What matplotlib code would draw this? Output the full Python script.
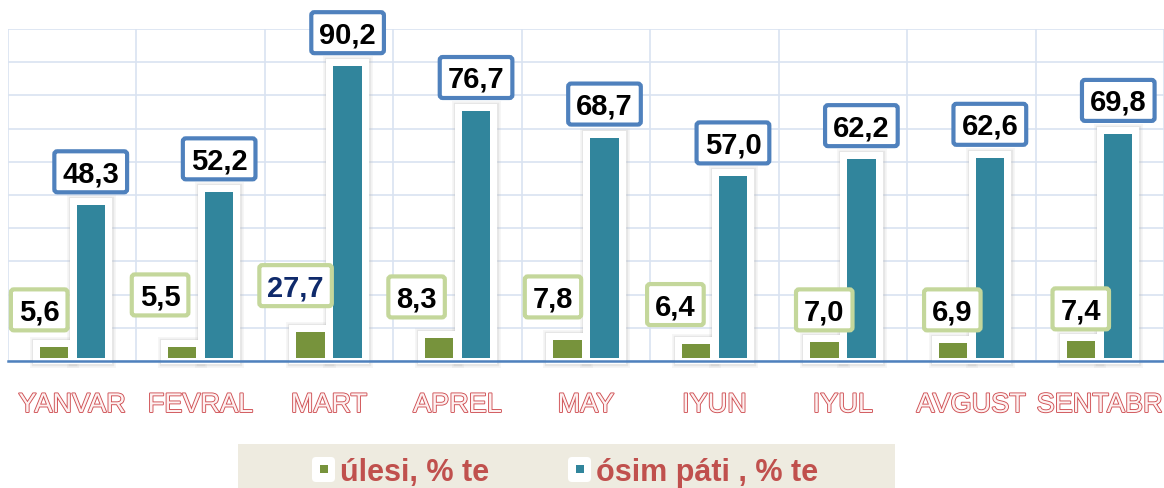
import numpy as np
import matplotlib
matplotlib.use('Agg')
import matplotlib.pyplot as plt
import matplotlib.patheffects as pe
from matplotlib import font_manager
from matplotlib.patches import FancyBboxPatch, Rectangle
from matplotlib.transforms import IdentityTransform

# data
months = ['YANVAR', 'FEVRAL', 'MART', 'APREL', 'MAY', 'IYUN', 'IYUL', 'AVGUST', 'SENTABR']
ulesi = [5.6, 5.5, 27.7, 8.3, 7.8, 6.4, 7.0, 6.9, 7.4]          # label values
ulesi_bar = [5.6, 5.5, 10.1, 8.3, 7.8, 6.4, 7.0, 6.9, 7.4]      # bar heights as drawn
osim = [48.3, 52.2, 90.2, 76.7, 68.7, 57.0, 62.2, 62.6, 69.8]
legend_labels = ['úlesi, % te', 'ósim páti , % te']

# where the green value boxes sit (x offset in categories, y in data units)
ulesi_lbl_dx = [-0.257, -0.316, -0.261, -0.319, -0.257, -0.304, -0.145, -0.148, -0.148]
ulesi_lbl_y = [16.8, 21.3, 24.1, 20.7, 20.7, 18.4, 16.8, 16.8, 17.1]

GREEN = '#77933c'
TEAL = '#31859c'
RED = '#c0504d'

W, H = 1164, 488
fig = plt.figure(figsize=(W / 100, H / 100), dpi=100)
ax = fig.add_axes([8 / W, 127 / H, 1156 / W, 332 / H])
y0, y1 = 1.4, 101.4
base = 2.4
ax.set_xlim(-0.5, 8.5)
ax.set_ylim(y0, y1)
ax.set_yticks([y0 + 10 * k for k in range(11)])
ax.set_xticks(np.arange(-0.5, 9, 1))
ax.grid(color='#d9e3f1', lw=1.2)
ax.set_axisbelow(True)
ax.tick_params(length=0, labelleft=False, labelbottom=False)
for s in ax.spines.values():
    s.set_visible(False)

x = np.arange(len(months))
off = 0.144
bw = 0.22
px_x = 1156 / 9        # pixels per category
px_y = 332 / (y1 - y0)  # pixels per unit
padx = 7 / px_x
pady = 7 / px_y
halo_bottom = y0 - 3 / px_y

# white halo behind each bar (soft gray edge first, then white fill)
for lw, a in [(5, 0.12), (2.5, 0.25)]:
    for xs, vals in [(x - off, ulesi_bar), (x + off, osim)]:
        tops = np.array(vals) + pady
        ax.bar(xs, tops - halo_bottom, bottom=halo_bottom, width=bw + 2 * padx,
               color='white', edgecolor='#b8b8b8', lw=lw, alpha=a, zorder=2, clip_on=False)
for xs, vals in [(x - off, ulesi_bar), (x + off, osim)]:
    tops = np.array(vals) + pady
    ax.bar(xs, tops - halo_bottom, bottom=halo_bottom, width=bw + 2 * padx,
           color='white', lw=0, zorder=2.5, clip_on=False)

ax.bar(x - off, np.array(ulesi_bar) - base, bottom=base, width=bw, color=GREEN, zorder=3)
ax.bar(x + off, np.array(osim) - base, bottom=base, width=bw, color=TEAL, zorder=3)
ax.axhline(y0, color='#4f81bd', lw=1.8, zorder=4, clip_on=False)

# month labels, hollow red letters
for i, m in enumerate(months):
    ax.text(i, -0.1536, m, transform=ax.get_xaxis_transform(), ha='center', va='baseline',
            fontsize=19.5, family='Liberation Sans', color='#fdf1f1',
            path_effects=[pe.Stroke(linewidth=1.3, foreground='#cf4f53'), pe.Normal()])

# value boxes
fs = 21
cap = 0.716 * fs * 100 / 72
renderer = fig.canvas.get_renderer()


def value_box(cx, cy, s, edge, tcolor):
    t = fig.text(cx, cy - cap / 2, s, transform=IdentityTransform(), ha='center', va='baseline',
                 fontsize=fs, fontweight='bold', family='Liberation Sans', color=tcolor, zorder=7)
    tw = t.get_window_extent(renderer).width
    bw_px = tw + 16
    bh_px = 41
    fig.add_artist(FancyBboxPatch((cx - bw_px / 2, cy - bh_px / 2), bw_px, bh_px,
                                  boxstyle='round,pad=0,rounding_size=3',
                                  transform=IdentityTransform(), facecolor='white',
                                  edgecolor=edge, lw=3, zorder=6))


for i in range(len(months)):
    px, py = ax.transData.transform((i + off, osim[i]))
    value_box(px, py + 33.5, f'{osim[i]:.1f}'.replace('.', ','), '#4f81bd', 'black')
    gx, gy = ax.transData.transform((i + ulesi_lbl_dx[i], ulesi_lbl_y[i]))
    tcol = '#0f2a6b' if ulesi[i] > 20 else 'black'
    value_box(gx, gy, f'{ulesi[i]:.1f}'.replace('.', ','), '#c4d79b', tcol)

# legend strip at the bottom
names = {f.name for f in font_manager.fontManager.ttflist}
if 'Liberation Sans Narrow' in names:
    leg_family, leg_size = 'Liberation Sans Narrow', 27
else:
    leg_family, leg_size = 'Liberation Sans', 22
fig.add_artist(Rectangle((238, 0), 657, 44, transform=IdentityTransform(),
                         facecolor='#eeebe0', edgecolor='none', zorder=5))
for mx, col, lab in [(312, GREEN, legend_labels[0]), (568, TEAL, legend_labels[1])]:
    fig.add_artist(FancyBboxPatch((mx, 6), 23, 25, boxstyle='round,pad=0,rounding_size=4',
                                  transform=IdentityTransform(), facecolor='white',
                                  edgecolor='none', zorder=6))
    fig.add_artist(Rectangle((mx + 8, 15), 8, 8, transform=IdentityTransform(),
                             facecolor=col, edgecolor='none', zorder=7))
    fig.text(mx + 28, 7, lab, transform=IdentityTransform(), ha='left', va='baseline',
             fontsize=leg_size, fontweight='bold', family=leg_family, color=RED, zorder=7)

fig.savefig('out.png', dpi=100)
